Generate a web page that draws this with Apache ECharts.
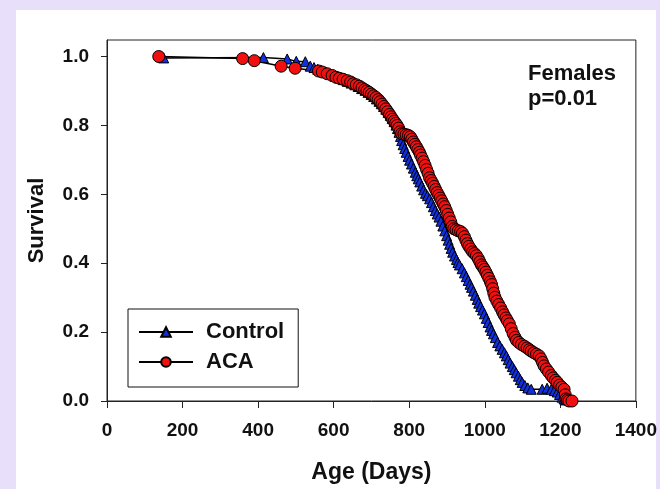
<!DOCTYPE html>
<html>
<head>
<meta charset="utf-8">
<script src="https://cdn.jsdelivr.net/npm/echarts@6/dist/echarts.min.js"></script>
<style>html,body{margin:0;padding:0;}#c{width:660px;height:489px;}</style>
</head>
<body>
<div id="c"></div>
<script>
var xTicks = [0, 200, 400, 600, 800, 1000, 1200, 1400];
var yTicks = [0, 0.2, 0.4, 0.6, 0.8, 1.0];

var ctrlDays = [150,414,477,501,525,538,548,558,568,580,592,604,615,626,636,646,656,665,674,683,691,699,706,713,720,726,732,738,744,750,755,760,765,769,773,777,780,784,788,792,797,801,806,811,816,820,824,828,833,838,843,848,854,859,864,869,874,879,884,889,894,899,903,907,911,915,920,925,929,933,940,946,951,956,961,965,970,975,980,984,989,994,999,1004,1009,1014,1018,1023,1028,1034,1040,1046,1052,1057,1062,1067,1073,1078,1083,1089,1094,1099,1106,1114,1123,1152,1165,1176,1184,1192,1198,1205,1210,1215];
var ctrlSurv = [0.996,0.997,0.993,0.986,0.985,0.972,0.968,0.963,0.959,0.954,0.949,0.943,0.938,0.933,0.928,0.923,0.918,0.913,0.907,0.902,0.896,0.890,0.884,0.877,0.870,0.863,0.855,0.847,0.838,0.829,0.820,0.811,0.801,0.791,0.780,0.768,0.756,0.744,0.733,0.722,0.710,0.699,0.688,0.676,0.664,0.654,0.645,0.636,0.624,0.613,0.603,0.596,0.587,0.576,0.564,0.553,0.543,0.534,0.522,0.508,0.494,0.480,0.467,0.455,0.443,0.432,0.421,0.411,0.402,0.395,0.384,0.372,0.361,0.350,0.339,0.330,0.319,0.307,0.295,0.284,0.274,0.264,0.253,0.240,0.228,0.215,0.205,0.195,0.184,0.170,0.160,0.150,0.140,0.131,0.120,0.110,0.100,0.091,0.082,0.072,0.062,0.054,0.045,0.038,0.034,0.034,0.037,0.034,0.030,0.026,0.019,0.011,0.006,0.003];

var acaDays = [137,359,390,461,498,560,570,583,596,606,615,625,636,645,652,660,668,675,682,688,694,700,706,712,718,723,728,733,738,743,748,752,756,760,764,768,772,776,780,786,792,798,803,807,811,815,819,823,827,830,834,838,842,846,850,854,858,862,866,870,874,878,882,886,890,894,898,902,906,910,914,918,924,930,936,941,946,950,954,958,963,968,973,978,983,987,991,995,999,1003,1007,1011,1015,1018,1021,1024,1027,1032,1037,1042,1047,1051,1056,1060,1065,1070,1075,1080,1084,1090,1097,1105,1112,1118,1123,1130,1137,1144,1149,1153,1157,1163,1169,1176,1181,1187,1192,1198,1204,1210,1213,1215,1219,1223,1231];
var acaSurv = [1.000,0.994,0.988,0.972,0.966,0.958,0.955,0.950,0.945,0.940,0.937,0.934,0.930,0.926,0.921,0.918,0.914,0.909,0.904,0.900,0.896,0.891,0.886,0.881,0.875,0.869,0.862,0.855,0.848,0.840,0.832,0.825,0.818,0.812,0.806,0.800,0.792,0.782,0.776,0.775,0.773,0.771,0.767,0.760,0.752,0.745,0.738,0.730,0.722,0.714,0.705,0.695,0.684,0.672,0.661,0.648,0.640,0.632,0.623,0.614,0.605,0.597,0.589,0.581,0.572,0.564,0.553,0.542,0.531,0.520,0.507,0.500,0.497,0.494,0.492,0.487,0.477,0.467,0.457,0.449,0.441,0.433,0.428,0.422,0.413,0.404,0.395,0.389,0.382,0.374,0.365,0.356,0.346,0.338,0.326,0.313,0.301,0.290,0.280,0.270,0.259,0.250,0.241,0.233,0.224,0.210,0.196,0.185,0.176,0.170,0.164,0.159,0.154,0.149,0.145,0.140,0.136,0.131,0.122,0.112,0.102,0.093,0.084,0.074,0.067,0.060,0.054,0.046,0.040,0.034,0.018,0.006,0.003,0.000,0.000];

function zip(a, b) { return a.map(function (v, i) { return [v, b[i]]; }); }

var FONT = "'Liberation Sans', Arial, sans-serif";
var chart = echarts.init(document.getElementById('c'), null, { renderer: 'canvas' });
chart.setOption({
  animation: false,
  backgroundColor: '#E8E0FA',
  graphic: [
    { type: 'rect', z: -10, shape: { x: 16, y: 10, width: 640, height: 479 }, style: { fill: '#ffffff' } }
  ],
  title: {
    text: 'Females\np=0.01',
    left: 523, top: 56,
    textStyle: { fontFamily: FONT, fontWeight: 'bold', fontSize: 22, color: '#111', lineHeight: 25 }
  },
  legend: {
    orient: 'vertical',
    left: 128, top: 309,
    padding: [12, 14, 14, 10],
    itemGap: 8,
    itemWidth: 54, itemHeight: 12,
    borderColor: '#111', borderWidth: 1,
    backgroundColor: '#fff',
    textStyle: { fontFamily: FONT, fontWeight: 'bold', fontSize: 22, color: '#111', padding: [0, 0, 0, 8] },
    data: ['Control', 'ACA']
  },
  grid: {
    left: 107, top: 40, width: 530, height: 371,
    show: true, borderColor: '#222', borderWidth: 1, backgroundColor: 'transparent'
  },
  xAxis: {
    type: 'value', min: 0, max: 1400, interval: 200,
    name: 'Age (Days)', nameLocation: 'middle', nameGap: 60,
    nameTextStyle: { fontFamily: FONT, fontWeight: 'bold', fontSize: 23, color: '#111' },
    axisLine: { show: true, lineStyle: { color: '#222', width: 1 } },
    axisTick: { show: true, inside: false, length: 7, lineStyle: { color: '#222' }, customValues: xTicks },
    axisLabel: { fontFamily: FONT, fontWeight: 'bold', fontSize: 19, color: '#111', margin: 20,
      customValues: xTicks, formatter: function (v) { return String(v); } },
    splitLine: { show: false }
  },
  yAxis: {
    type: 'value', min: 0, max: 1.048,
    name: 'Survival', nameLocation: 'middle', nameGap: 59,
    nameTextStyle: { fontFamily: FONT, fontWeight: 'bold', fontSize: 22, color: '#111' },
    axisLine: { show: true, lineStyle: { color: '#222', width: 1 } },
    axisTick: { show: true, inside: false, length: 6, lineStyle: { color: '#222' }, customValues: yTicks },
    axisLabel: { fontFamily: FONT, fontWeight: 'bold', fontSize: 19, color: '#111', margin: 18,
      customValues: yTicks, formatter: function (v) { return v.toFixed(1); } },
    splitLine: { show: false }
  },
  series: [
    {
      name: 'Control', type: 'line', data: zip(ctrlDays, ctrlSurv),
      symbol: 'triangle', symbolSize: 10, showAllSymbol: true, clip: false,
      lineStyle: { color: '#000', width: 1.5 },
      itemStyle: { color: '#1030e0', borderColor: '#000', borderWidth: 1 }
    },
    {
      name: 'ACA', type: 'line', data: zip(acaDays, acaSurv),
      symbol: 'circle', symbolSize: 12, showAllSymbol: true, clip: false,
      lineStyle: { color: '#000', width: 1.5 },
      itemStyle: { color: '#f01010', borderColor: '#000', borderWidth: 1 }
    }
  ]
});
</script>
</body>
</html>
